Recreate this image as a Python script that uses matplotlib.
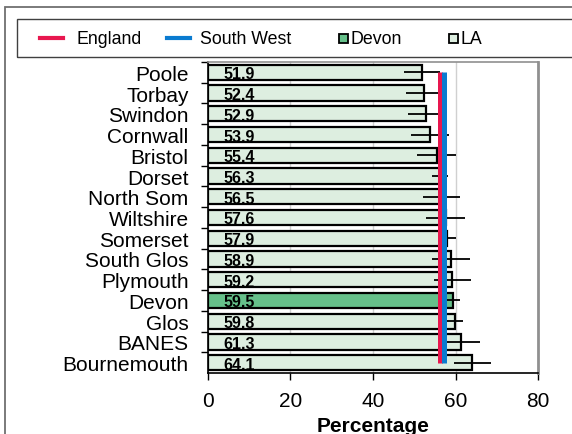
import matplotlib; matplotlib.use("Agg")
import matplotlib.pyplot as plt
from matplotlib.patches import Rectangle
from matplotlib.lines import Line2D

plt.rcParams["font.family"] = ["Liberation Sans", "DejaVu Sans"]

# data, top to bottom as drawn
areas = ["Poole", "Torbay", "Swindon", "Cornwall", "Bristol", "Dorset", "North Som",
         "Wiltshire", "Somerset", "South Glos", "Plymouth", "Devon", "Glos", "BANES", "Bournemouth"]
values = [51.9, 52.4, 52.9, 53.9, 55.4, 56.3, 56.5, 57.6, 57.9, 58.9, 59.2, 59.5, 59.8, 61.3, 64.1]
ci_half = [4.4, 4.3, 4.4, 4.6, 4.7, 1.9, 4.5, 4.7, 2.2, 4.6, 4.5, 1.5, 2.0, 4.6, 4.4]
england = 56.2
south_west = 57.2
highlight = "Devon"

LA_COL = "#ddeee0"
DEVON_COL = "#66c08a"
ENG_COL = "#e8174f"
SW_COL = "#0a7bd0"

fig = plt.figure(figsize=(5.72, 4.35), dpi=100)
ax = fig.add_axes([0.3636, 0.1402, 0.577, 0.715])

ypos = list(range(len(areas)))
cols = [DEVON_COL if a == highlight else LA_COL for a in areas]
ax.barh(ypos, values, height=0.74, color=cols, edgecolor="black", linewidth=1.6, zorder=2)
ax.errorbar(values, ypos, xerr=ci_half, fmt="none", ecolor="black", elinewidth=1.3, capsize=0, zorder=3)
ax.plot([england] * len(areas), ypos, color=ENG_COL, lw=3.6, zorder=4, solid_capstyle="butt")
ax.plot([south_west] * len(areas), ypos, color=SW_COL, lw=3.6, zorder=4, solid_capstyle="butt")

for y, v in zip(ypos, values):
    ax.text(3.7, y + 0.07, f"{v:.1f}", ha="left", va="center", fontsize=11.5, fontweight="bold", zorder=5)

ax.set_xlim(0, 80)
ax.set_ylim(len(areas) - 0.5, -0.5)
ax.set_xticks([0, 20, 40, 60, 80])
ax.set_yticks(ypos)
ax.set_yticklabels(areas, fontsize=15)
ax.tick_params(axis="y", length=0, pad=14)
ax.set_yticks([y + 0.5 for y in ypos[:-1]] + [-0.5], minor=True)
ax.tick_params(axis="y", which="minor", length=5, width=1, direction="out")
ax.tick_params(axis="x", labelsize=15, length=5, width=1, direction="out", pad=8)
ax.xaxis.grid(True, color="#d0d0d0", lw=1, zorder=0)
ax.set_axisbelow(True)
ax.set_xlabel("Percentage", fontsize=15, fontweight="bold", labelpad=4)
for s in ("top", "right"):
    ax.spines[s].set_color("#909090")
ax.spines["right"].set_linewidth(2)
ax.spines["top"].set_linewidth(1.2)
ax.spines["left"].set_linewidth(1.2)
ax.spines["bottom"].set_linewidth(1.2)

# outer chart frame and legend box (pixel coords, origin top-left)
W, H = 572, 435
def fx(px): return px / W
def fy(py): return 1 - py / H
fig.patches.append(Rectangle((fx(5), fy(440)), fx(600), 432 / H, transform=fig.transFigure,
                             fill=False, ec="#707070", lw=1.3))
fig.patches.append(Rectangle((fx(17), fy(58)), fx(600), 38 / H, transform=fig.transFigure,
                             fill=False, ec="#404040", lw=1.0))

ly = fy(39)
fs = 12.8
fig.add_artist(Line2D([fx(40), fx(63)], [ly, ly], color=ENG_COL, lw=3, transform=fig.transFigure))
fig.text(fx(77), ly, "England", fontsize=fs, va="center", ha="left")
fig.add_artist(Line2D([fx(167), fx(190)], [ly, ly], color=SW_COL, lw=3, transform=fig.transFigure))
fig.text(fx(200), ly, "South West", fontsize=fs, va="center", ha="left")
fig.patches.append(Rectangle((fx(339), ly - 4.5 / H), 9 / W, 9 / H, transform=fig.transFigure,
                             fc=DEVON_COL, ec="black", lw=1.3))
fig.text(fx(351), ly, "Devon", fontsize=fs, va="center", ha="left")
fig.patches.append(Rectangle((fx(449), ly - 4.5 / H), 9 / W, 9 / H, transform=fig.transFigure,
                             fc=LA_COL, ec="black", lw=1.3))
fig.text(fx(461), ly, "LA", fontsize=fs, va="center", ha="left")

fig.savefig("out.png", dpi=100)
